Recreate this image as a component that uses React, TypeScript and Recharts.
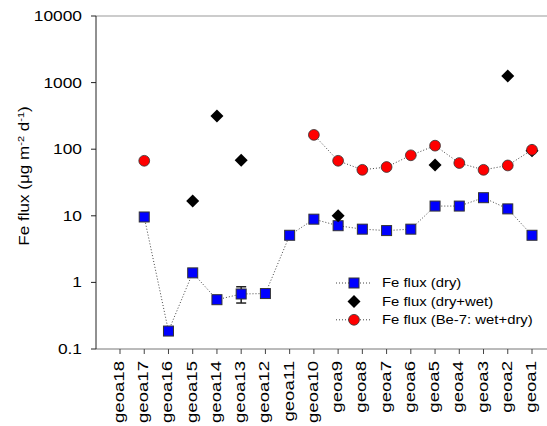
import React from 'react';
import { LineChart, Line, XAxis, YAxis, ReferenceLine, Legend, ErrorBar } from 'recharts';

const categories = ['geoa18', 'geoa17', 'geoa16', 'geoa15', 'geoa14', 'geoa13', 'geoa12', 'geoa11', 'geoa10', 'geoa9', 'geoa8', 'geoa7', 'geoa6', 'geoa5', 'geoa4', 'geoa3', 'geoa2', 'geoa1'];
const fluxDry: (number | null)[] = [null, 9.6, 0.186, 1.39, 0.55, 0.67, 0.68, 5.1, 8.9, 7.1, 6.3, 6.0, 6.3, 14.0, 14.0, 18.7, 12.7, 5.1];
const fluxDryErr: ([number, number] | null)[] = [null, null, null, null, null, [0.18, 0.19], null, null, null, null, null, null, null, null, null, null, null, null];
const fluxDryWet: (number | null)[] = [null, null, null, 16.7, 316, 68, null, null, null, 10.0, null, null, null, 58, null, null, 1260, 95];
const fluxBe7: (number | null)[] = [null, 67, null, null, null, null, null, null, 164, 67, 49, 54, 81, 113, 62, 49, 57, 98];
const yTicks = [0.1, 1, 10, 100, 1000, 10000];

const data = categories.map((name, i) => ({
  name,
  dry: fluxDry[i],
  dryErr: fluxDryErr[i],
  dryWet: fluxDryWet[i],
  be7: fluxBe7[i],
}));

const FONT = '"Liberation Sans", Arial, sans-serif';
const SX = 1.24;

const ok = (p: any) => p && p.value != null && p.cx != null && p.cy != null && !isNaN(p.cy);

const SquareDot = (p: any) => {
  if (!ok(p)) return <g key={`s${p.index}`} />;
  return <rect key={`s${p.index}`} x={p.cx - 5} y={p.cy - 5} width={10} height={10} fill="#0000ff" stroke="#333" strokeWidth={1} />;
};
const DiamondDot = (p: any) => {
  if (!ok(p)) return <g key={`d${p.index}`} />;
  const r = 6.5;
  return <polygon key={`d${p.index}`} points={`${p.cx},${p.cy - r} ${p.cx + r},${p.cy} ${p.cx},${p.cy + r} ${p.cx - r},${p.cy}`} fill="#000" />;
};
const CircleDot = (p: any) => {
  if (!ok(p)) return <g key={`c${p.index}`} />;
  return <circle key={`c${p.index}`} cx={p.cx} cy={p.cy} r={5.4} fill="#ff0000" stroke="#333" strokeWidth={0.8} />;
};

const YTick = (p: any) => (
  <text transform={`translate(${p.x},${p.y}) scale(${SX},1)`} x={0} y={0} dy="0.36em" textAnchor="end" fontSize={14} fontFamily={FONT} fill="#000">
    {String(p.payload.value)}
  </text>
);

const XTick = (p: any) => (
  <text transform={`translate(${p.x},${p.y + 5}) rotate(-90) scale(${SX},1)`} x={0} y={4} textAnchor="end" fontSize={15} fontFamily={FONT} fill="#000">
    {p.payload.value}
  </text>
);

const YLabel = () => (
  <text transform={`translate(29,176) rotate(-90) scale(1.22,1)`} x={0} y={0} textAnchor="middle" fontSize={14} fontFamily={FONT} fill="#000">
    Fe flux (μg m<tspan dy={-5} fontSize={9}>-2</tspan><tspan dy={5}> d</tspan><tspan dy={-5} fontSize={9}>-1</tspan><tspan dy={5}>)</tspan>
  </text>
);

const legendItems = [
  { label: 'Fe flux (dry)', kind: 'square', line: true },
  { label: 'Fe flux (dry+wet)', kind: 'diamond', line: false },
  { label: 'Fe flux (Be-7: wet+dry)', kind: 'circle', line: true },
];

const LegendContent = () => (
  <svg width={217} height={62}>
    {legendItems.map((it, i) => {
      const y = 15 + i * 18.4;
      return (
        <g key={it.label}>
          {it.line && <line x1={6} x2={42} y1={y} y2={y} stroke="#444" strokeDasharray="1 2" />}
          {it.kind === 'square' && <rect x={19} y={y - 5} width={10} height={10} fill="#0000ff" stroke="#333" />}
          {it.kind === 'diamond' && <polygon points={`24,${y - 6.5} 30.5,${y} 24,${y + 6.5} 17.5,${y}`} fill="#000" />}
          {it.kind === 'circle' && <circle cx={24} cy={y} r={5.4} fill="#ff0000" stroke="#333" strokeWidth={0.8} />}
          <text transform={`translate(52,${y}) scale(${SX},1)`} x={0} y={0} dy="0.36em" fontSize={12} fontFamily={FONT} fill="#000">
            {it.label}
          </text>
        </g>
      );
    })}
  </svg>
);

export default function App() {
  return (
    <div style={{ position: 'absolute', left: 0, top: 0, width: 547, height: 426, background: '#fff' }}>
      <LineChart width={547} height={426} data={data} margin={{ top: 16, right: 0, bottom: 0, left: 0 }}>
        <XAxis
          dataKey="name"
          interval={0}
          padding={{ left: 24, right: 15 }}
          height={77}
          tickSize={5}
          tick={<XTick />}
          axisLine={{ stroke: '#777' }}
          tickLine={{ stroke: '#444' }}
        />
        <YAxis
          type="number"
          scale="log"
          domain={[0.1, 10000]}
          ticks={yTicks}
          allowDataOverflow
          width={96}
          tickSize={5}
          tickMargin={9}
          tick={<YTick />}
          axisLine={{ stroke: '#222' }}
          tickLine={{ stroke: '#222' }}
          label={<YLabel />}
        />
        <ReferenceLine y={10000} stroke="#999" />
        <Line dataKey="dry" stroke="#444" strokeWidth={1} strokeDasharray="1 2" dot={SquareDot} activeDot={false} isAnimationActive={false}>
          <ErrorBar dataKey="dryErr" width={5} stroke="#222" direction="y" />
        </Line>
        <Line dataKey="dryWet" stroke="none" strokeWidth={0} dot={DiamondDot} activeDot={false} isAnimationActive={false} />
        <Line dataKey="be7" stroke="#444" strokeWidth={1} strokeDasharray="1 2" dot={CircleDot} activeDot={false} isAnimationActive={false} />
        <Legend
          layout="vertical"
          align="center"
          verticalAlign="middle"
          content={<LegendContent />}
          wrapperStyle={{ position: 'absolute', left: 330, top: 268, width: 217, height: 62 }}
        />
      </LineChart>
    </div>
  );
}
